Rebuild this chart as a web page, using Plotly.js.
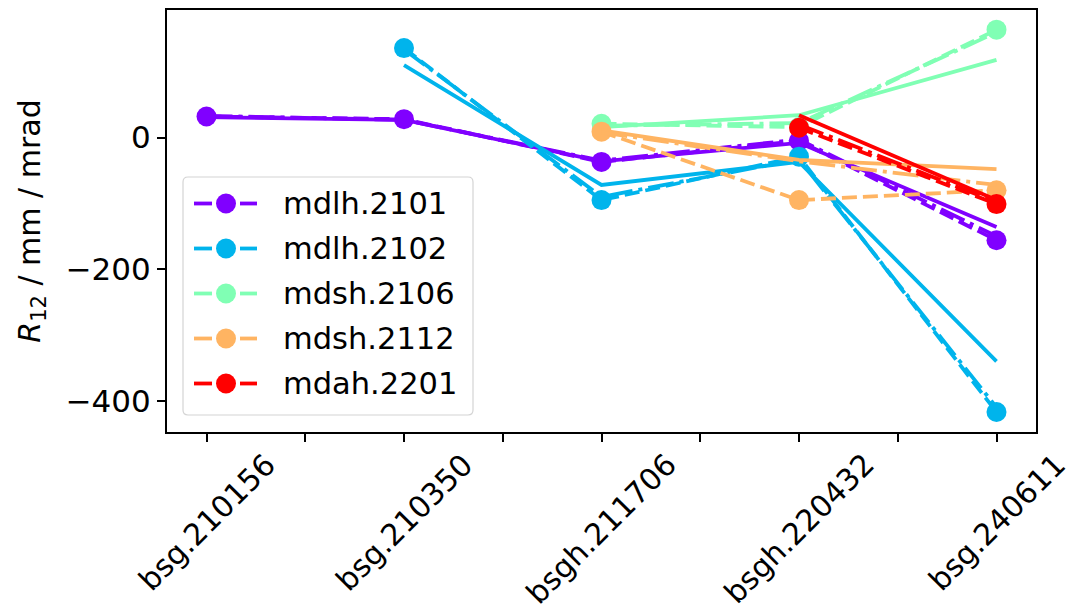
<!DOCTYPE html>
<html>
<head>
<meta charset="utf-8">
<script src="https://cdn.plot.ly/plotly-3.0.1.min.js"></script>
<style>
  html, body { margin: 0; padding: 0; background: #fff; }
  #chart { width: 1071px; height: 613px; }
</style>
</head>
<body>
<div id="chart"></div>
<script>
// Beam stations along the x axis
const categories = ['bsg.210156', 'bsg.210350', 'bsgh.211706', 'bsgh.220432', 'bsg.240611'];
const seriesNames = ['mdlh.2101', 'mdlh.2102', 'mdsh.2106', 'mdsh.2112', 'mdah.2201'];
const seriesColors = ['#8000ff', '#00b4ec', '#80ffb4', '#ffb462', '#ff0000'];

// Measured R12 (markers, dashed)
const measured_mdlh2101 = [32, 28, -37, -5, -156];
const measured_mdlh2102 = [null, 136, -95, -29, -417];
const measured_mdsh2106 = [null, null, 21, 16, 164];
const measured_mdsh2112 = [null, null, 9, -95, -80];
const measured_mdah2201 = [null, null, null, 15, -101];

// Model A (solid)
const modelA_mdlh2101 = [31, 27, -36, -8, -136];
const modelA_mdlh2102 = [null, 110, -72, -37, -340];
const modelA_mdsh2106 = [null, null, 16, 34, 118];
const modelA_mdsh2112 = [null, null, 11, -34, -48];
const modelA_mdah2201 = [null, null, null, 34, -95];

// Model B (dash-dot)
const modelB_mdlh2101 = [33, 27, -35, -3, -150];
const modelB_mdlh2102 = [null, 134, -90, -33, -410];
const modelB_mdsh2106 = [null, null, 18, 22, 160];
const modelB_mdsh2112 = [null, null, 8, -36, -72];
const modelB_mdah2201 = [null, null, null, 20, -98];

const measured = [measured_mdlh2101, measured_mdlh2102, measured_mdsh2106, measured_mdsh2112, measured_mdah2201];
const modelA = [modelA_mdlh2101, modelA_mdlh2102, modelA_mdsh2106, modelA_mdsh2112, modelA_mdah2201];
const modelB = [modelB_mdlh2101, modelB_mdlh2102, modelB_mdsh2106, modelB_mdsh2112, modelB_mdah2201];

const yTicks = [-400, -200, 0];

const xIdx = categories.map((_, i) => i);
const FONT = 'DejaVu Sans, Liberation Sans, sans-serif';
const LW = 3.8;

// figure geometry (px)
const W = 1071, H = 613;
const M = { l: 167, r: 35, t: 10, b: 181 };
const PW = W - M.l - M.r, PH = H - M.t - M.b;
const px2x = px => (px - M.l) / PW;
const py2y = py => (H - M.b - py) / PH;

// keep only defined points so each line starts at its first station
function pick(vals) {
  const x = [], y = [];
  vals.forEach((v, i) => { if (v !== null) { x.push(xIdx[i]); y.push(v); } });
  return { x, y };
}

const traces = [];
seriesNames.forEach((name, s) => {
  const c = seriesColors[s];
  const m = pick(measured[s]);
  traces.push({
    type: 'scatter', mode: 'lines+markers', name: name,
    x: m.x, y: m.y,
    line: { color: c, width: LW, dash: '15px,6px' },
    marker: { color: c, size: 20, line: { width: 0 } }
  });
  const a = pick(modelA[s]);
  traces.push({
    type: 'scatter', mode: 'lines', x: a.x, y: a.y,
    line: { color: c, width: LW }, hoverinfo: 'skip'
  });
  const b = pick(modelB[s]);
  traces.push({
    type: 'scatter', mode: 'lines', x: b.x, y: b.y,
    line: { color: c, width: LW, dash: '26px,6px,4px,6px' }, hoverinfo: 'skip'
  });
});

// rotated station labels centred under each major tick
const annotations = categories.map((c, i) => ({
  x: xIdx[i], y: 0, xref: 'x', yref: 'paper',
  text: c, showarrow: false, textangle: -45,
  xanchor: 'center', yanchor: 'top', yshift: -12,
  font: { family: FONT, size: 30, color: '#000' }
}));

const minorTicks = [];
for (let i = 0; i < categories.length; i++) {
  minorTicks.push(i);
  if (i < categories.length - 1) minorTicks.push(i + 0.5);
}

// legend box with rounded corners, then one row per series
const shapes = [];
const box = { x0: 183, y0: 177, x1: 473, y1: 415, r: 5 };
function roundedRect(b) {
  const X = px2x, Y = py2y, r = b.r;
  const rx = r / PW, ry = r / PH;
  const x0 = X(b.x0), x1 = X(b.x1), y0 = Y(b.y0), y1 = Y(b.y1);
  return `M${x0 + rx},${y0} L${x1 - rx},${y0} Q${x1},${y0} ${x1},${y0 - ry} ` +
         `L${x1},${y1 + ry} Q${x1},${y1} ${x1 - rx},${y1} L${x0 + rx},${y1} ` +
         `Q${x0},${y1} ${x0},${y1 + ry} L${x0},${y0 - ry} Q${x0},${y0} ${x0 + rx},${y0} Z`;
}
shapes.push({
  type: 'path', xref: 'paper', yref: 'paper', path: roundedRect(box),
  fillcolor: 'rgba(255,255,255,0.85)', line: { color: '#d4d4d4', width: 1.2 }, layer: 'above'
});
const rowY = [203.5, 248.5, 293.5, 338.5, 383.5];
seriesNames.forEach((name, s) => {
  const c = seriesColors[s];
  const y = py2y(rowY[s]);
  shapes.push({ type: 'line', xref: 'paper', yref: 'paper', layer: 'above',
    x0: px2x(194), x1: px2x(212), y0: y, y1: y, line: { color: c, width: LW } });
  shapes.push({ type: 'line', xref: 'paper', yref: 'paper', layer: 'above',
    x0: px2x(240), x1: px2x(257), y0: y, y1: y, line: { color: c, width: LW } });
  shapes.push({ type: 'circle', xref: 'paper', yref: 'paper', layer: 'above',
    x0: px2x(216), x1: px2x(236), y0: py2y(rowY[s] + 10), y1: py2y(rowY[s] - 10),
    fillcolor: c, line: { width: 0 } });
  annotations.push({
    x: px2x(281), y: y, xref: 'paper', yref: 'paper', text: name, showarrow: false,
    xanchor: 'left', yanchor: 'middle', font: { family: FONT, size: 30.5, color: '#000' }
  });
});

const layout = {
  width: W, height: H,
  margin: { l: M.l, r: M.r, t: M.t, b: M.b, pad: 0 },
  paper_bgcolor: '#fff', plot_bgcolor: '#fff',
  font: { family: FONT, size: 30, color: '#000' },
  showlegend: false,
  xaxis: {
    range: [-0.2, 4.2], tickmode: 'array', tickvals: minorTicks,
    showticklabels: false, ticks: 'outside', ticklen: 8, tickwidth: 2, tickcolor: '#000',
    showline: true, linecolor: '#000', linewidth: 2, mirror: true,
    showgrid: false, zeroline: false
  },
  yaxis: {
    range: [-447.4, 193.9], tickmode: 'array', tickvals: yTicks,
    ticktext: yTicks.map(v => v < 0 ? '\u2212' + Math.abs(v) : String(v)),
    ticks: 'outside', ticklen: 8, tickwidth: 2, tickcolor: '#000',
    tickfont: { family: FONT, size: 31, color: '#000' },
    showline: true, linecolor: '#000', linewidth: 2, mirror: true,
    showgrid: false, zeroline: false,
    title: { text: '<i>R</i><sub>12</sub> / mm / mrad', standoff: 16,
             font: { family: FONT, size: 30, color: '#000' } }
  },
  shapes: shapes,
  annotations: annotations
};

Plotly.newPlot('chart', traces, layout, { staticPlot: true, displayModeBar: false });
</script>
</body>
</html>
